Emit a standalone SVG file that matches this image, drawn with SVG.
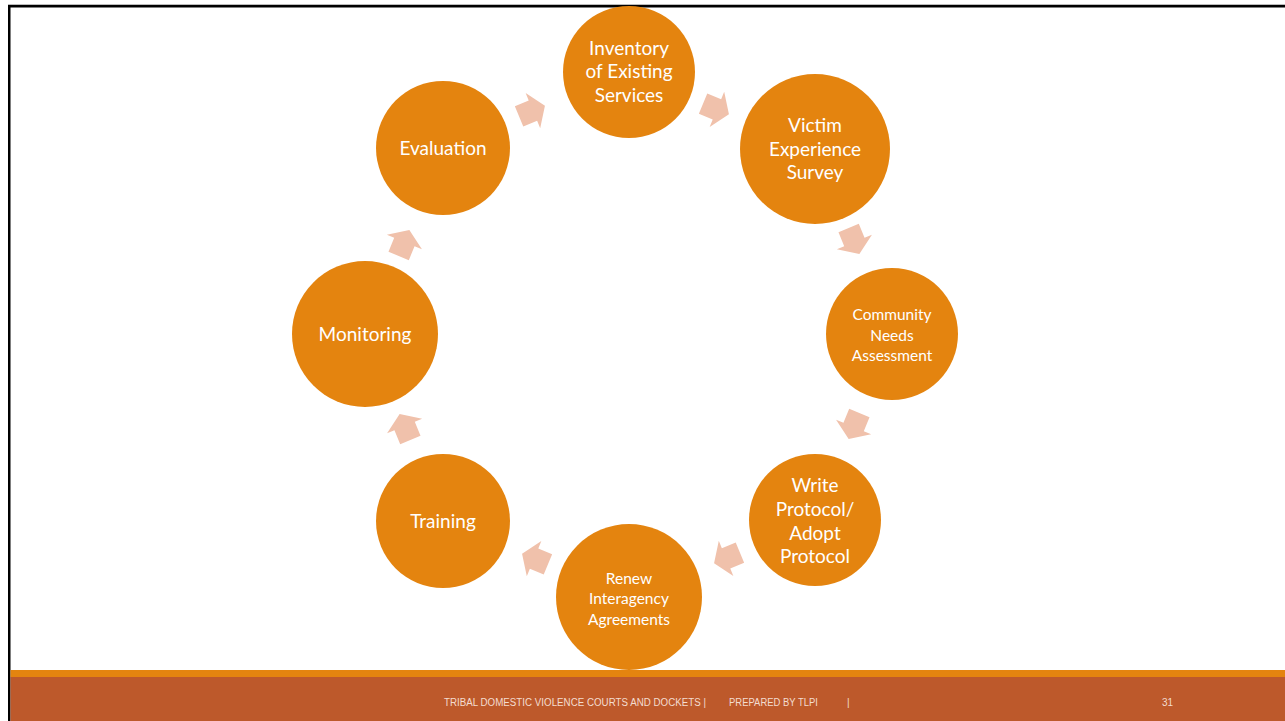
<svg xmlns="http://www.w3.org/2000/svg" width="1285" height="721" viewBox="0 0 1285 721">
  <style>
    .node circle { fill: #E4840F; }
    .node text { fill: #FFFFFF; font-family: Lato, "Liberation Sans", sans-serif; text-anchor: middle; }
    .big { font-size: 19px; }
    .small { font-size: 15.5px; }
    .arrow { fill: #F0C1AB; }
    .foot { fill: #F3DCD0; font-family: "Liberation Sans Narrow", "Liberation Sans", sans-serif; font-size: 10px; }
  </style>
  <defs>
    <path id="arr" d="M-14,-11 H1 V-19 L14,0 L1,19 V11 H-14 Z"/>
  </defs>
  <rect x="0" y="0" width="1285" height="721" fill="#FFFFFF"/>
  <!-- frame -->
  <rect x="8" y="4" width="1277" height="1" fill="#BBBBBB"/>
  <rect x="8" y="5" width="1277" height="2.5" fill="#000000"/>
  <rect x="8" y="5" width="2.5" height="716" fill="#000000"/>

  <!-- connectors -->
  <g id="connectors" class="arrow">
    <use href="#arr" transform="translate(716,109) rotate(22.5)"/>
    <use href="#arr" transform="translate(854,241) rotate(67.5)"/>
    <use href="#arr" transform="translate(854,426) rotate(112.5)"/>
    <use href="#arr" transform="translate(727,558) rotate(157.5)"/>
    <use href="#arr" transform="translate(535,559) rotate(202.5)"/>
    <use href="#arr" transform="translate(405,427) rotate(247.5)"/>
    <use href="#arr" transform="translate(404,243) rotate(292.5)"/>
    <use href="#arr" transform="translate(532,111) rotate(337.5)"/>
  </g>

  <g id="node-inventory" class="node">
    <circle cx="629" cy="72" r="66"/>
    <text class="big" x="629" y="55">Inventory</text>
    <text class="big" x="629" y="78">of Existing</text>
    <text class="big" x="629" y="102">Services</text>
  </g>
  <g id="node-victim" class="node">
    <circle cx="815" cy="149" r="75"/>
    <text class="big" x="815" y="132">Victim</text>
    <text class="big" x="815" y="156">Experience</text>
    <text class="big" x="815" y="179">Survey</text>
  </g>
  <g id="node-community" class="node">
    <circle cx="892" cy="334" r="66"/>
    <text class="small" x="892" y="320">Community</text>
    <text class="small" x="892" y="341">Needs</text>
    <text class="small" x="892" y="361">Assessment</text>
  </g>
  <g id="node-write" class="node">
    <circle cx="815" cy="520" r="66"/>
    <text class="big" x="815" y="492">Write</text>
    <text class="big" x="815" y="516">Protocol/</text>
    <text class="big" x="815" y="540">Adopt</text>
    <text class="big" x="815" y="563">Protocol</text>
  </g>
  <g id="node-renew" class="node">
    <circle cx="629" cy="597" r="73"/>
    <text class="small" x="629" y="584">Renew</text>
    <text class="small" x="629" y="604">Interagency</text>
    <text class="small" x="629" y="625">Agreements</text>
  </g>
  <g id="node-training" class="node">
    <circle cx="443" cy="521" r="67"/>
    <text class="big" x="443" y="528">Training</text>
  </g>
  <g id="node-monitoring" class="node">
    <circle cx="365" cy="334" r="73"/>
    <text class="big" x="365" y="341">Monitoring</text>
  </g>
  <g id="node-evaluation" class="node">
    <circle cx="443" cy="148" r="67"/>
    <text class="big" x="443" y="155">Evaluation</text>
  </g>

  <!-- footer -->
  <rect x="10.5" y="670" width="1275" height="7" fill="#E4840F"/>
  <rect x="10.5" y="677" width="1275" height="44" fill="#BD592B"/>
  <text class="foot" x="444" y="706" textLength="262" lengthAdjust="spacingAndGlyphs">TRIBAL DOMESTIC VIOLENCE COURTS AND DOCKETS |</text>
  <text class="foot" x="729" y="706" textLength="89" lengthAdjust="spacingAndGlyphs">PREPARED BY TLPI</text>
  <text class="foot" x="847" y="706">|</text>
  <text class="foot" x="1162" y="706" font-size="11">31</text>
</svg>
